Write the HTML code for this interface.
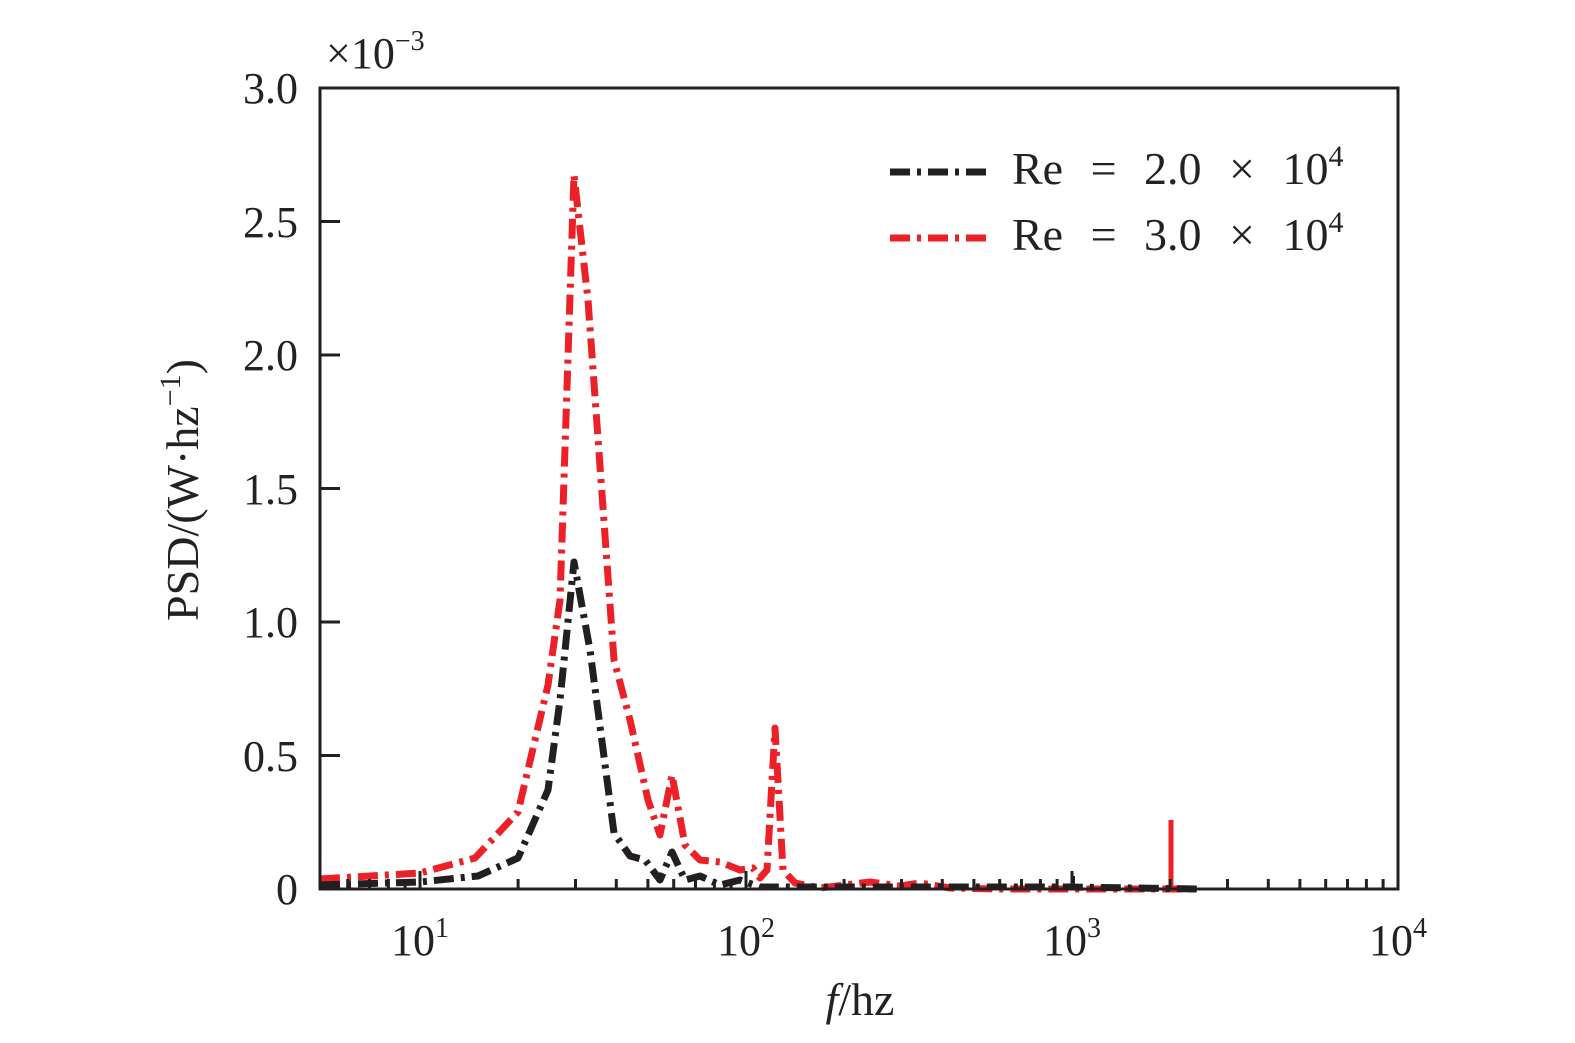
<!DOCTYPE html>
<html><head><style>html,body{margin:0;padding:0;overflow:hidden;width:1575px;height:1043px;background:#fff}svg{display:block}text{font-family:"Liberation Serif",serif;fill:#222}</style></head><body>
<svg width="1575" height="1043" viewBox="0 0 1575 1043">
<g fill="none" stroke-linejoin="round" stroke-width="7" stroke-dasharray="20 7 4 7">
<polyline stroke="#ec2127" points="320,879 420,873 475,858 518,812 548,685 560,600 574,175 588,300 614,660 630,720 648,800 660,835 672,775 685,845 700,860 720,862 740,870 753,868 760,878 767,870 775,728 783,870 795,883 820,888 870,882 900,886 920,883 950,888 1000,889 1100,889 1169,889 1200,889"/>
<polyline stroke="#231f20" points="320,885 420,882 478,876 518,858 548,790 560,700 574,562 590,650 614,833 630,856 645,860 660,880 672,852 685,880 700,876 720,885 740,880 760,887 800,887 1070,887 1200,889"/>
</g>
<path d="M1171,889V820" stroke="#ec2127" stroke-width="5"/>
<path d="M1073,889V876" stroke="#231f20" stroke-width="4"/>
<rect x="320" y="88" width="1078" height="801" fill="none" stroke="#231f20" stroke-width="3"/>
<g stroke="#231f20" stroke-width="3">
<path d="M320,889h20M320,755.5h20M320,622h20M320,488.5h20M320,355h20M320,221.5h20"/>
<path d="M420,889v-18M746,889v-18M1072,889v-18"/>
<path d="M347.7,889v-10M369.5,889v-10M388.4,889v-10M405.1,889v-10M518.1,889v-10M575.5,889v-10M616.3,889v-10M647.9,889v-10M673.7,889v-10M695.5,889v-10M714.4,889v-10M731.1,889v-10M844.1,889v-10M901.5,889v-10M942.3,889v-10M973.9,889v-10M999.7,889v-10M1021.5,889v-10M1040.4,889v-10M1057.1,889v-10M1170.1,889v-10M1227.5,889v-10M1268.3,889v-10M1299.9,889v-10M1325.7,889v-10M1347.5,889v-10M1366.4,889v-10M1383.1,889v-10"/>
</g>
<g font-size="44" text-anchor="end">
<text x="298" y="904">0</text><text x="298" y="771">0.5</text><text x="298" y="637">1.0</text><text x="298" y="504">1.5</text><text x="298" y="370">2.0</text><text x="298" y="237">2.5</text><text x="298" y="103">3.0</text>
</g>
<text x="326" y="68" font-size="44">×10<tspan font-size="28" dy="-18">−3</tspan></text>
<g font-size="44" text-anchor="middle">
<text x="420" y="955">10<tspan font-size="28" dy="-18">1</tspan></text>
<text x="746" y="955">10<tspan font-size="28" dy="-18">2</tspan></text>
<text x="1072" y="955">10<tspan font-size="28" dy="-18">3</tspan></text>
<text x="1398" y="955">10<tspan font-size="28" dy="-18">4</tspan></text>
<text x="860" y="1015" font-size="46"><tspan font-style="italic">f</tspan>/hz</text>
<text transform="translate(198,490) rotate(-90)" font-size="46">PSD/(W·hz<tspan font-size="30" dy="-18">−1</tspan><tspan dy="18">)</tspan></text>
</g>
<g fill="none" stroke-width="7" stroke-dasharray="20 7 4 7">
<path d="M890,172H992" stroke="#231f20"/><path d="M890,238H992" stroke="#ec2127"/>
</g>
<text x="1012" y="184" font-size="46" word-spacing="16">Re = 2.0 × 10<tspan font-size="30" dy="-18">4</tspan></text>
<text x="1012" y="250" font-size="46" word-spacing="16">Re = 3.0 × 10<tspan font-size="30" dy="-18">4</tspan></text>
</svg>
</body></html>
